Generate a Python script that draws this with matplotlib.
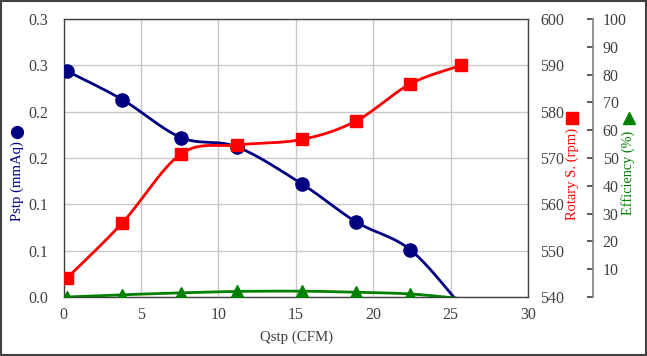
import numpy as np
import matplotlib
matplotlib.use("Agg")
import matplotlib.pyplot as plt
from matplotlib.patches import Rectangle
from matplotlib.lines import Line2D

# ---- data ----
qstp = [0.2, 3.8, 7.6, 11.2, 15.4, 18.9, 22.4, 25.7]
pstp = [0.244, 0.213, 0.172, 0.162, 0.122, 0.081, 0.051, -0.010]
rpm = [544.0, 556.0, 570.9, 572.8, 574.0, 578.0, 586.0, 590.0]
eff = [0.0, 0.8, 1.5, 2.0, 2.1, 1.7, 1.1, -0.6]

x_ticks = [0, 5, 10, 15, 20, 25, 30]
p_ticks = [0.0, 0.05, 0.10, 0.15, 0.20, 0.25, 0.30]
p_tick_labels = ["0.0", "0.1", "0.1", "0.2", "0.2", "0.3", "0.3"]
rpm_ticks = [540, 550, 560, 570, 580, 590, 600]
eff_ticks = [0, 10, 20, 30, 40, 50, 60, 70, 80, 90, 100]
eff_tick_labels = ["", "10", "20", "30", "40", "50", "60", "70", "80", "90", "100"]

W, H = 647, 356
DPI = 100
plt.rcParams["font.family"] = ["Liberation Serif", "DejaVu Serif"]
TXT = "#404040"

fig = plt.figure(figsize=(W / DPI, H / DPI), dpi=DPI)
L, R, T, B = 63.5, 528.0, 19.0, 297.0
ax = fig.add_axes([L / W, 1 - B / H, (R - L) / W, (B - T) / H])
aw, ah = R - L, B - T


def smooth(x, y, xlim, ylim, n=40):
    x = np.asarray(x, float)
    y = np.asarray(y, float)
    px = (x - xlim[0]) / (xlim[1] - xlim[0]) * aw
    py = (y - ylim[0]) / (ylim[1] - ylim[0]) * ah
    P = np.column_stack([px, py])
    P = np.vstack([P[0], P, P[-1]])
    out = []
    for i in range(1, len(P) - 2):
        p0, p1, p2, p3 = P[i - 1], P[i], P[i + 1], P[i + 2]
        c1 = p1 + (p2 - p0) / 6.0
        c2 = p2 - (p3 - p1) / 6.0
        t = np.linspace(0, 1, n)[:, None]
        seg = ((1 - t) ** 3) * p1 + 3 * ((1 - t) ** 2) * t * c1 + 3 * (1 - t) * t ** 2 * c2 + t ** 3 * p2
        out.append(seg if i == 1 else seg[1:])
    S = np.vstack(out)
    sx = S[:, 0] / aw * (xlim[1] - xlim[0]) + xlim[0]
    sy = S[:, 1] / ah * (ylim[1] - ylim[0]) + ylim[0]
    return sx, sy


xlim = (0, 30)
plim = (0, 0.3)
rlim = (540, 600)
elim = (0, 100)

# main axis
ax.set_xlim(*xlim)
ax.set_ylim(*plim)
ax.set_xticks(x_ticks)
ax.set_yticks(p_ticks)
ax.set_yticklabels(p_tick_labels)
ax.grid(True, color="#c8c8c8", linewidth=1.0)
ax.set_axisbelow(True)
for s in ax.spines.values():
    s.set_color("#404040")
    s.set_linewidth(1.0)
ax.tick_params(axis="both", length=0, labelsize=11.5, colors=TXT)
ax.tick_params(axis="y", pad=11)
ax.tick_params(axis="x", pad=7)

sx, sy = smooth(qstp, pstp, xlim, plim)
ax.plot(sx, sy, color="#000080", lw=2.0, zorder=3)
ax.plot(qstp[:-1], pstp[:-1], "o", color="#000080", ms=9.5, zorder=4)

# rpm axis
ax2 = ax.twinx()
ax2.set_ylim(*rlim)
ax2.set_yticks(rpm_ticks)
for s in ax2.spines.values():
    s.set_visible(False)
ax2.tick_params(axis="y", length=0, labelsize=11.5, colors=TXT, pad=9)
sx, sy = smooth(qstp, rpm, xlim, rlim)
ax2.plot(sx, sy, color="#ff0000", lw=2.0, zorder=3)
ax2.plot(qstp, rpm, "s", color="#ff0000", ms=9, zorder=4)

# efficiency axis
ax3 = ax.twinx()
ax3.set_ylim(*elim)
ax3.set_yticks(eff_ticks)
ax3.set_yticklabels(eff_tick_labels)
for k, s in ax3.spines.items():
    s.set_visible(k == "right")
ax3.spines["right"].set_position(("axes", (593 - L) / aw))
ax3.spines["right"].set_color("#808080")
ax3.spines["right"].set_linewidth(1.2)
ax3.tick_params(axis="y", direction="in", length=4, width=1.2, color="#404040",
                labelsize=11.5, labelcolor=TXT, pad=7)
sx, sy = smooth(qstp, eff, xlim, elim)
ax3.plot(sx, sy, color="#008000", lw=2.0, zorder=3)
ax3.plot(qstp[:-1], eff[:-1], "^", color="#008000", ms=8.5, zorder=4)


def fx(px):
    return px / W


def fy(py):
    return 1 - py / H


renderer = fig.canvas.get_renderer()


def fit_text(cx, cy, s, color, target, rotation=90):
    t = fig.text(fx(cx), fy(cy), s, rotation=rotation, ha="center", va="center",
                 fontsize=10, color=color)
    bb = t.get_window_extent(renderer)
    size = bb.height if rotation == 90 else bb.width
    t.set_fontsize(10 * target / size)
    return t


# axis titles (pixel centres / lengths)
fit_text(296.5, 337.5, "Qstp (CFM)", TXT, 73, rotation=0)
fit_text(17, 181, "Pstp (mmAq)", "#000080", 80)
fig.add_artist(Line2D([fx(17)], [fy(132)], marker="o", ms=8.5, color="#000080",
                      transform=fig.transFigure))
fit_text(572, 174, "Rotary S. (rpm)", "#ff0000", 92)
fig.add_artist(Line2D([fx(572)], [fy(118.5)], marker="s", ms=9, color="#ff0000",
                      transform=fig.transFigure))
fit_text(628.5, 173, "Efficiency (%)", "#008000", 84)
fig.add_artist(Line2D([fx(629)], [fy(118.5)], marker="^", ms=9, color="#008000",
                      transform=fig.transFigure))

# outer border
fig.add_artist(Rectangle((0.001, 0.002), 0.997, 0.995, transform=fig.transFigure,
                         fill=False, edgecolor="#404040", linewidth=1.5))

fig.savefig("out.png", dpi=DPI)
